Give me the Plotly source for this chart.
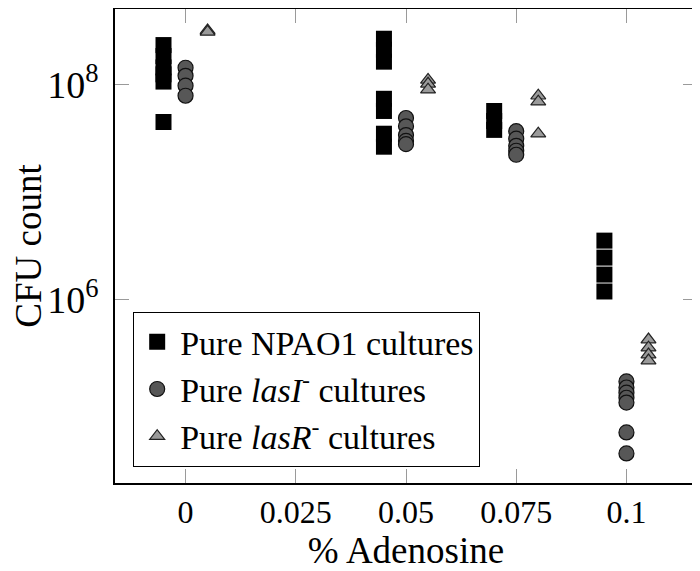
import plotly.graph_objects as go

# ---- data ----
npao1_x = [-0.005]*6 + [0.045]*7 + [0.07]*3 + [0.095]*4
npao1_y = [2.34e8, 1.85e8, 1.45e8, 1.25e8, 1.07e8, 4.5e7,
           2.68e8, 2.12e8, 1.64e8, 7.4e7, 5.7e7, 3.5e7, 2.65e7,
           5.7e7, 4.6e7, 3.8e7,
           3.54e6, 2.46e6, 1.71e6, 1.19e6]

lasI_x = [0.0]*4 + [0.05]*5 + [0.075]*5 + [0.1]*7
lasI_y = [1.44e8, 1.21e8, 9.8e7, 7.9e7,
          4.9e7, 4.1e7, 3.4e7, 3.0e7, 2.8e7,
          3.7e7, 3.15e7, 2.7e7, 2.43e7, 2.23e7,
          1.73e5, 1.52e5, 1.36e5, 1.22e5, 1.10e5, 5.8e4, 3.7e4]

lasR_x = [0.005]*2 + [0.055]*3 + [0.08]*3 + [0.105]*4
lasR_y = [3.2e8, 3.1e8,
          1.11e8, 1.02e8, 9.0e7,
          7.9e7, 6.95e7, 3.5e7,
          4.25e5, 3.57e5, 3.08e5, 2.71e5]

x_ticks = [0, 0.025, 0.05, 0.075, 0.1]
x_ticktext = ["0", "0.025", "0.05", "0.075", "0.1"]
y_ticks = [1e6, 1e8]
y_ticktext = ["10<sup>6</sup>", "10<sup>8</sup>"]

FONT = "Liberation Serif, serif"

fig = go.Figure()
fig.add_trace(go.Scatter(
    x=npao1_x, y=npao1_y, mode="markers", name="Pure NPAO1 cultures",
    marker=dict(symbol="square", size=16, color="black",
                line=dict(color="black", width=0))))
fig.add_trace(go.Scatter(
    x=lasI_x, y=lasI_y, mode="markers",
    name="Pure <i>lasI</i><sup>-</sup> cultures",
    marker=dict(symbol="circle", size=15, color="#575757",
                line=dict(color="#111111", width=1.2))))
fig.add_trace(go.Scatter(
    x=lasR_x, y=lasR_y, mode="markers",
    name="Pure <i>lasR</i><sup>-</sup> cultures",
    marker=dict(symbol="triangle-up", size=13, color="#9a9a9a",
                line=dict(color="#222222", width=1.2))))

axis_common = dict(showgrid=False, zeroline=False, showline=True,
                   linecolor="black", linewidth=1.6, mirror="allticks",
                   ticks="inside", ticklen=14, tickcolor="#9a9a9a",
                   tickwidth=1, automargin=False,
                   title_font=dict(family=FONT, size=37, color="black"))

fig.update_xaxes(range=[-0.016, 0.116], tickvals=x_ticks,
                 ticktext=x_ticktext, title_text="% Adenosine",
                 tickfont=dict(family=FONT, size=32, color="black"),
                 title_standoff=15, **axis_common)
fig.update_yaxes(type="log", range=[4.293, 8.705], tickvals=y_ticks,
                 ticktext=y_ticktext, title_text="CFU count",
                 tickfont=dict(family=FONT, size=38, color="black"),
                 ticklabelstandoff=7,
                 title_standoff=12, **axis_common)

# page body has an 8px margin, so the figure is 8px smaller on each side
fig.update_layout(
    width=692, height=563,
    margin=dict(l=107, r=3, t=1, b=88, autoexpand=False),
    plot_bgcolor="white", paper_bgcolor="white",
    font=dict(family=FONT, color="black"),
    showlegend=True,
    legend=dict(x=0.0309, y=0.0338, xanchor="left", yanchor="bottom",
                bgcolor="white", bordercolor="black", borderwidth=1.2,
                font=dict(family=FONT, size=34, color="black"),
                itemwidth=36, traceorder="normal"),
)

fig.write_html("out.html")
